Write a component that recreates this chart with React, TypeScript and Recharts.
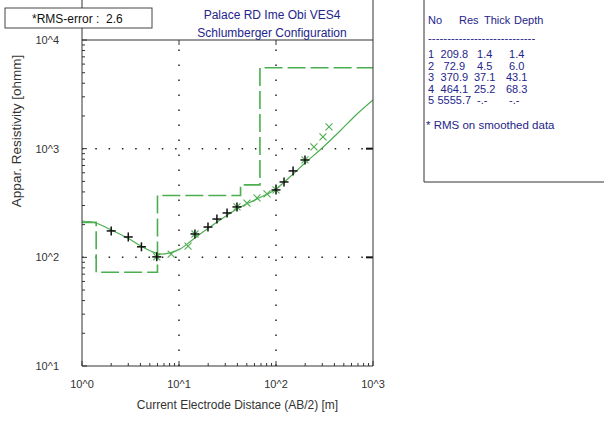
import { ComposedChart, Line, Scatter, XAxis, YAxis, ReferenceLine } from 'recharts';

const W = 604;
const H = 428;
// plot frame in page pixels
const LEFT = 82;
const TOP = 40;
const RIGHT = 373;
const BOTTOM = 366;
const FONT = '"Liberation Sans", Arial, sans-serif';
const GREEN = '#4cae50';
const NAVY = '#24248a';
const INK = '#333';

// axis ticks
const xMajor = [1, 10, 100, 1000];
const xLabels = ['10^0', '10^1', '10^2', '10^3'];
const yMajor = [10, 100, 1000, 10000];
const yLabels = ['10^1', '10^2', '10^3', '10^4'];
const minorSteps = [2, 3, 4, 5, 6, 7, 8, 9];

// field data, AB/2 [m] vs apparent resistivity [ohmm] (black +)
const measuredAB2 = [2.0, 3.0, 4.1, 5.9, 14.6, 19.9, 24.6, 31.3, 39.6, 100, 121, 150, 199];
const measuredRho = [175, 154, 125, 101, 164, 190, 225, 256, 291, 417, 494, 624, 787];

// smoothed data (green x)
const smoothAB2 = [5.9, 8.3, 12.4, 14.6, 39.6, 50.2, 63.7, 80.8, 100, 199, 246, 305, 352];
const smoothRho = [101, 107, 127, 164, 291, 316, 352, 383, 417, 787, 1037, 1282, 1585];

// model response curve
const curveAB2 = [1, 1.39, 1.99, 3.05, 4.06, 5.02, 6.37, 8.08, 10.2, 13.0, 16.5, 20.9, 26.5, 39.6, 63.7, 100, 139, 199, 284, 457, 652, 1000];
const curveRho = [216, 207, 179, 148, 127, 115, 107, 110, 119, 139, 164, 190, 221, 279, 344, 426, 549, 739, 973, 1455, 2000, 2805];

// layered model
const layerNo = ['1', '2', '3', '4', '5'];
const layerRes = [209.8, 72.9, 370.9, 464.1, 5555.7];
const layerThick = ['1.4', '4.5', '37.1', '25.2', '-.-'];
const layerDepth = [1.4, 6.0, 43.1, 68.3];
const layerDepthText = ['1.4', '6.0', '43.1', '68.3', '-.-'];
const tableHeader = ['No', 'Res', 'Thick', 'Depth'];

const rmsError = '2.6';
const titleLines = ['Palace RD Ime Obi VES4', 'Schlumberger Configuration'];

const pairs = (xs: number[], ys: number[]) => xs.map((x, i) => ({ x, y: ys[i] }));
const measured = pairs(measuredAB2, measuredRho);
const smoothed = pairs(smoothAB2, smoothRho);
const curve = pairs(curveAB2, curveRho);
const steps = [
  { x: xMajor[0], y: layerRes[0] },
  ...layerDepth.map((d, i) => ({ x: d, y: layerRes[i + 1] })),
  { x: xMajor[xMajor.length - 1], y: layerRes[layerRes.length - 1] },
];

const withMinor = (majors: number[]) =>
  majors.flatMap((m, i) => (i < majors.length - 1 ? [m, ...minorSteps.map((s) => s * m)] : [m]));
const xTicks = withMinor(xMajor);
const yTicks = withMinor(yMajor);

function XTick(props: any) {
  const { x, payload } = props;
  const i = xMajor.indexOf(payload.value);
  const major = i >= 0;
  return (
    <g>
      <line x1={x} x2={x} y1={BOTTOM} y2={BOTTOM - (major ? 5 : 3)} stroke={INK} />
      {major && i > 0 && i < xMajor.length - 1 && (
        <line x1={x} x2={x} y1={TOP} y2={TOP + 5} stroke={INK} />
      )}
      {major && (
        <text x={x} y={388} textAnchor="middle" fontSize={11} fontFamily={FONT} fill={INK}>
          {xLabels[i]}
        </text>
      )}
    </g>
  );
}

function YTick(props: any) {
  const { y, payload } = props;
  const i = yMajor.indexOf(payload.value);
  const major = i >= 0;
  return (
    <g>
      <line x1={LEFT} x2={LEFT + (major ? 5 : 3)} y1={y} y2={y} stroke={INK} />
      {major && i > 0 && i < yMajor.length - 1 && (
        <line x1={RIGHT - 7} x2={RIGHT} y1={y} y2={y} stroke="#111" strokeWidth={2} />
      )}
      {major && (
        <text x={59} y={y + 4} textAnchor="end" fontSize={11} fontFamily={FONT} fill={INK}>
          {yLabels[i]}
        </text>
      )}
    </g>
  );
}

function Plus(props: any) {
  const { cx, cy } = props;
  const r = 4.5;
  return (
    <g stroke="#111" strokeWidth={1.5}>
      <line x1={cx - r} x2={cx + r} y1={cy} y2={cy} />
      <line x1={cx} x2={cx} y1={cy - r} y2={cy + r} />
    </g>
  );
}

function Cross(props: any) {
  const { cx, cy } = props;
  const r = 3.5;
  return (
    <g stroke={GREEN} strokeWidth={1.1}>
      <line x1={cx - r} x2={cx + r} y1={cy - r} y2={cy + r} />
      <line x1={cx - r} x2={cx + r} y1={cy + r} y2={cy - r} />
    </g>
  );
}

const gridStyle = { stroke: '#222', strokeWidth: 1.5 };
const headerX = [428, 459, 484, 514];

export default function App() {
  const rowY = (i: number) => 58 + i * 11.5;
  return (
    <div style={{ position: 'absolute', left: 0, top: 0, width: W, height: H, background: '#fff' }}>
      <ComposedChart width={W} height={H} margin={{ top: TOP, right: W - RIGHT, bottom: 0, left: 0 }}>
        <XAxis
          dataKey="x"
          type="number"
          scale="log"
          domain={[xMajor[0], xMajor[xMajor.length - 1]]}
          allowDataOverflow
          ticks={xTicks}
          interval={0}
          height={H - BOTTOM}
          tickLine={false}
          axisLine={{ stroke: INK }}
          tick={(p: any) => <XTick {...p} />}
        />
        <YAxis
          dataKey="y"
          type="number"
          scale="log"
          domain={[yMajor[0], yMajor[yMajor.length - 1]]}
          allowDataOverflow
          ticks={yTicks}
          interval={0}
          width={LEFT}
          tickLine={false}
          axisLine={{ stroke: INK }}
          tick={(p: any) => <YTick {...p} />}
        />
        <ReferenceLine x={xMajor[1]} {...gridStyle} strokeDasharray="1.5 13.5" />
        <ReferenceLine x={xMajor[2]} {...gridStyle} strokeDasharray="1.5 13.5" />
        <ReferenceLine y={yMajor[1]} {...gridStyle} strokeDasharray="1.5 11.8" />
        <ReferenceLine y={yMajor[2]} {...gridStyle} strokeDasharray="1.5 11.8" />
        <Line
          data={steps}
          dataKey="y"
          type="stepAfter"
          stroke={GREEN}
          strokeWidth={1.6}
          strokeDasharray="18 5"
          dot={false}
          isAnimationActive={false}
        />
        <Line
          data={curve}
          dataKey="y"
          type="monotone"
          stroke={GREEN}
          strokeWidth={1.2}
          dot={false}
          isAnimationActive={false}
        />
        <Scatter data={smoothed} dataKey="y" shape={(p: any) => <Cross {...p} />} isAnimationActive={false} />
        <Scatter data={measured} dataKey="y" shape={(p: any) => <Plus {...p} />} isAnimationActive={false} />
      </ComposedChart>

      <svg width={W} height={H} style={{ position: 'absolute', left: 0, top: 0, pointerEvents: 'none' }}>
        {/* frame and header area */}
        <line x1={LEFT} x2={LEFT} y1={0} y2={TOP} stroke={INK} />
        <line x1={RIGHT} x2={RIGHT} y1={0} y2={BOTTOM} stroke={INK} />
        <line x1={LEFT} x2={RIGHT} y1={TOP} y2={TOP} stroke={INK} />

        <rect x={5} y={8} width={147} height={20} fill="#fff" stroke="#444" />
        <text x={32} y={23} fontFamily={FONT} fontSize={12} fill="#111" xmlSpace="preserve">
          {`*RMS-error :  ${rmsError}`}
        </text>

        {titleLines.map((t, i) => (
          <text key={t} x={272} y={19 + i * 18} textAnchor="middle" fontFamily={FONT} fontSize={12} fill={NAVY}>
            {t}
          </text>
        ))}

        <text transform="translate(21,131) rotate(-90)" textAnchor="middle" fontFamily={FONT} fontSize={13.5} fill={INK}>
          Appar. Resistivity [ohmm]
        </text>
        <text x={(LEFT + RIGHT) / 2 + 10} y={409} textAnchor="middle" fontFamily={FONT} fontSize={12} fill={INK}>
          Current Electrode Distance (AB/2) [m]
        </text>

        {/* layer table */}
        <line x1={424} x2={424} y1={0} y2={182} stroke={INK} />
        <line x1={424} x2={W} y1={182} y2={182} stroke={INK} />
        <g fontFamily={FONT} fill={NAVY} fontSize={11}>
          {tableHeader.map((h, i) => (
            <text key={h} x={headerX[i]} y={24}>
              {h}
            </text>
          ))}
          <text x={428} y={42} fontSize={11.5}>{'-'.repeat(28)}</text>
          {layerNo.map((n, i) => (
            <g key={n}>
              <text x={428} y={rowY(i)}>{n}</text>
              <text x={437.5} y={rowY(i)} xmlSpace="preserve">{layerRes[i].toFixed(1).padStart(6)}</text>
              <text x={474} y={rowY(i)} xmlSpace="preserve">{layerThick[i].padStart(4)}</text>
              <text x={506} y={rowY(i)} xmlSpace="preserve">{layerDepthText[i].padStart(4)}</text>
            </g>
          ))}
          <text x={426} y={129} fontSize={11.5}>* RMS on smoothed data</text>
        </g>
      </svg>
    </div>
  );
}
